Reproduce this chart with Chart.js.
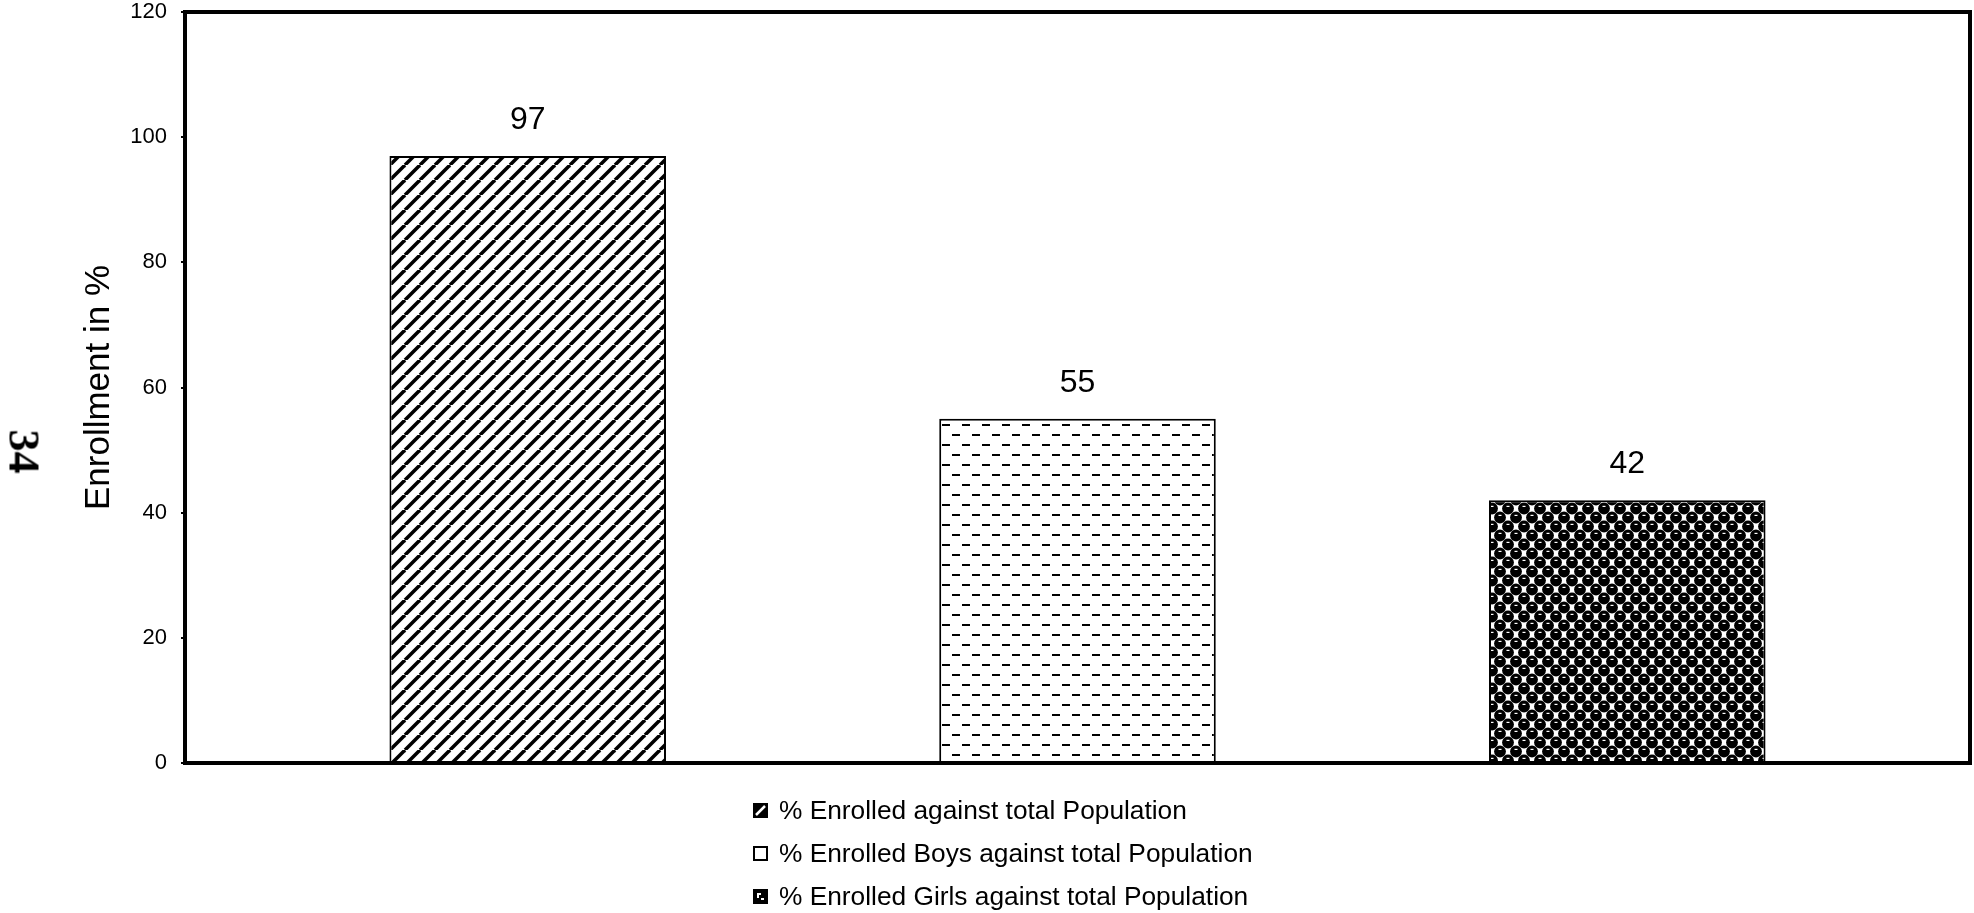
<!DOCTYPE html>
<html>
<head>
<meta charset="utf-8">
<script src="https://cdn.jsdelivr.net/npm/chart.js@4.4.1/dist/chart.umd.min.js"></script>
<style>
  html, body { margin: 0; padding: 0; background: #fff; }
  #wrap { position: relative; width: 1974px; height: 913px; }
  #pageNo {
    position: absolute; left: 2px; top: 426px;
    font: bold 44px "Liberation Serif", "DejaVu Serif", serif;
    transform: rotate(90deg); transform-origin: center; color: #000;
  }
  #legend { position: absolute; left: 753px; top: 789px; font: 26.3px "Liberation Sans", Arial, sans-serif; color: #000; }
  #legend .row { display: flex; align-items: center; height: 43px; }
  #legend canvas { margin-right: 11px; }
</style>
</head>
<body>
<div id="wrap">
  <canvas id="enrollChart" width="1974" height="913"></canvas>
  <div id="pageNo">34</div>
  <div id="legend"></div>
</div>
<script>
const categories = [''];
const seriesNames = [
  '% Enrolled against total Population',
  '% Enrolled Boys against total Population',
  '% Enrolled Girls against total Population'
];
const seriesValues = [[97], [55], [42]];
const yTicks = { min: 0, max: 120, step: 20 };

// --- fill patterns, drawn on small tiles ---
function makeHatch() {
  const c = document.createElement('canvas');
  c.width = 15; c.height = 15;
  const g = c.getContext('2d');
  g.fillStyle = '#fff'; g.fillRect(0, 0, 15, 15);
  g.strokeStyle = '#000'; g.lineWidth = 3.5;
  [-15, 0, 15].forEach(o => {
    g.beginPath(); g.moveTo(o, 15); g.lineTo(o + 15, 0); g.stroke();
  });
  return g.createPattern(c, 'repeat');
}

function makeDashes() {
  const c = document.createElement('canvas');
  c.width = 20; c.height = 20;
  const g = c.getContext('2d');
  g.fillStyle = '#fff'; g.fillRect(0, 0, 20, 20);
  g.fillStyle = '#000';
  g.fillRect(2, 4, 8, 2);
  g.fillRect(12, 14, 8, 2);
  return g.createPattern(c, 'repeat');
}

function makeBalls() {
  const c = document.createElement('canvas');
  c.width = 16; c.height = 18;
  const g = c.getContext('2d');
  g.fillStyle = '#fff'; g.fillRect(0, 0, 16, 18);
  g.fillStyle = '#000';
  const centers = [[4, 4.5], [12, 13.5], [20, 4.5], [-4, 13.5], [4, 22.5], [12, -4.5], [20, 22.5], [-4, -4.5]];
  centers.forEach(([x, y]) => { g.beginPath(); g.arc(x, y, 5.9, 0, Math.PI * 2); g.fill(); });
  g.fillStyle = '#fff';
  g.fillRect(2.5, 1.8, 3, 1.2);
  g.fillRect(10.5, 10.8, 3, 1.2);
  return g.createPattern(c, 'repeat');
}

const fills = [makeHatch(), makeDashes(), makeBalls()];

// small legend glyphs in the style of the printed key
function drawSwatch(g, i) {
  g.fillStyle = i === 1 ? '#fff' : '#000';
  g.fillRect(0, 0, 15, 15);
  g.strokeStyle = '#000'; g.lineWidth = 2; g.strokeRect(1, 1, 13, 13);
  g.strokeStyle = '#fff'; g.fillStyle = '#fff';
  if (i === 0) {
    g.lineWidth = 2.5;
    g.beginPath(); g.moveTo(3, 12); g.lineTo(12, 3); g.stroke();
  } else if (i === 2) {
    g.fillRect(4, 4, 4, 2);
    g.fillRect(4, 6, 2, 3);
    g.fillRect(8, 9, 3, 2);
  }
}

const frame = {
  id: 'frame',
  afterDatasetsDraw(chart) {
    const { ctx, chartArea: a } = chart;
    ctx.save();
    ctx.strokeStyle = '#000';
    ctx.lineWidth = 4;
    ctx.strokeRect(a.left, a.top, a.right - a.left, a.bottom - a.top);
    ctx.restore();
  }
};

const valueLabels = {
  id: 'valueLabels',
  afterDatasetsDraw(chart) {
    const ctx = chart.ctx;
    ctx.save();
    ctx.font = '32px "Liberation Sans", Arial, sans-serif';
    ctx.fillStyle = '#000';
    ctx.textAlign = 'center';
    ctx.textBaseline = 'middle';
    chart.data.datasets.forEach((ds, i) => {
      chart.getDatasetMeta(i).data.forEach((bar, j) => {
        ctx.fillText(ds.data[j], bar.x, bar.y - 36);
      });
    });
    ctx.restore();
  }
};

const htmlLegend = {
  id: 'htmlLegend',
  afterUpdate(chart) {
    const box = document.getElementById('legend');
    box.innerHTML = '';
    chart.data.datasets.forEach((ds, i) => {
      const row = document.createElement('div');
      row.className = 'row';
      const sw = document.createElement('canvas');
      sw.width = 15; sw.height = 15;
      drawSwatch(sw.getContext('2d'), i);
      const txt = document.createElement('span');
      txt.textContent = ds.label;
      row.appendChild(sw); row.appendChild(txt);
      box.appendChild(row);
    });
  }
};

new Chart(document.getElementById('enrollChart'), {
  type: 'bar',
  data: {
    labels: categories,
    datasets: seriesNames.map((name, i) => ({
      label: name,
      data: seriesValues[i],
      backgroundColor: fills[i],
      borderColor: '#000',
      borderWidth: 2,
      categoryPercentage: 0.924,
      barPercentage: 0.503
    }))
  },
  options: {
    responsive: false,
    animation: false,
    layout: { padding: { left: 60, right: 4, top: 12, bottom: 150 } },
    plugins: {
      legend: { display: false },
      tooltip: { enabled: false }
    },
    scales: {
      x: { display: false },
      y: {
        min: yTicks.min,
        max: yTicks.max,
        border: { display: false },
        grid: { drawOnChartArea: false, tickLength: 4, color: '#000', lineWidth: 2 },
        ticks: {
          stepSize: yTicks.step,
          padding: 14,
          color: '#000',
          font: { family: '"Liberation Sans", Arial, sans-serif', size: 22 }
        },
        title: {
          display: true,
          text: 'Enrollment in %',
          color: '#000',
          padding: { top: 18, bottom: 0 },
          font: { family: '"Liberation Sans", Arial, sans-serif', size: 35 }
        },
        afterFit(scale) {
          scale.width = 125;
          scale.paddingTop = 0;
          scale.paddingBottom = 0;
        }
      }
    }
  },
  plugins: [frame, valueLabels, htmlLegend]
});
</script>
</body>
</html>
